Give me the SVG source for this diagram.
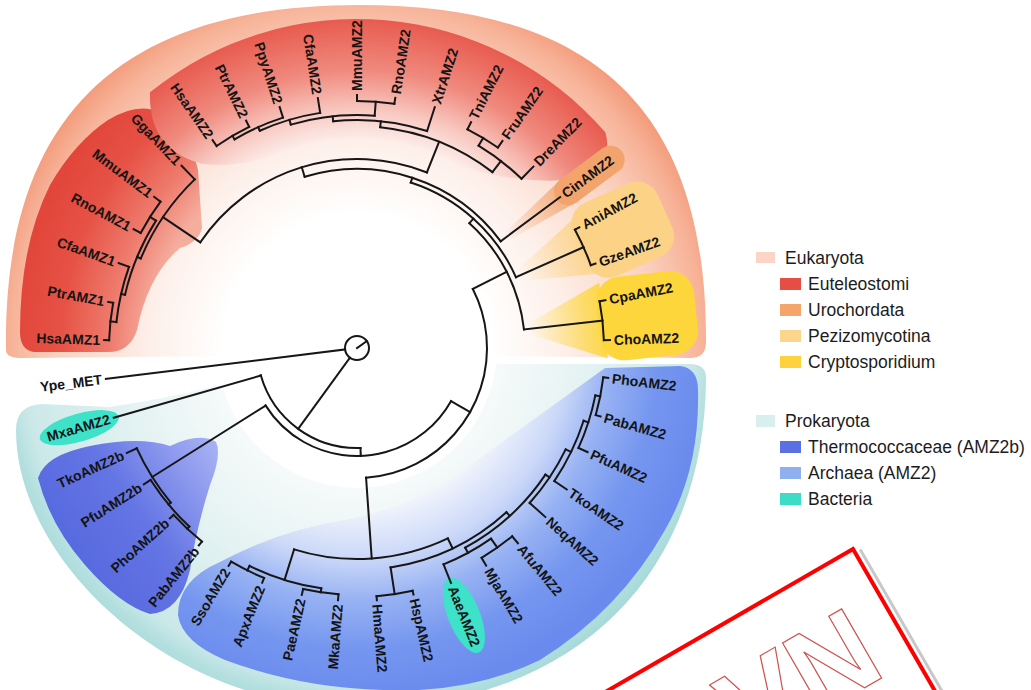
<svg xmlns="http://www.w3.org/2000/svg" width="1031" height="690" viewBox="0 0 1031 690">
<defs>
<style>
.t line,.t circle{fill:none;stroke:#161616;stroke-width:2;stroke-linecap:square}
.lb{font-family:'Liberation Sans',Arial,sans-serif;font-weight:bold;font-size:14px;fill:#141414;dominant-baseline:central}
.l{text-anchor:end}
.lg{font-family:'Liberation Sans',Arial,sans-serif;font-size:17.5px;fill:#1c1c1c}
</style>
<radialGradient id="gEuk" gradientUnits="userSpaceOnUse" cx="357" cy="348" r="372">
<stop offset="0.36" stop-color="#ffffff"/><stop offset="0.55" stop-color="#fdf0ea"/><stop offset="0.8" stop-color="#fad2c1"/><stop offset="0.93" stop-color="#f7b398"/><stop offset="1" stop-color="#f39a7a"/>
</radialGradient>
<radialGradient id="gProk" gradientUnits="userSpaceOnUse" cx="357" cy="348" r="372">
<stop offset="0.37" stop-color="#f6fafa"/><stop offset="0.6" stop-color="#e6f3f3"/><stop offset="0.9" stop-color="#cbe8e8"/><stop offset="0.95" stop-color="#b4dfdf"/><stop offset="1" stop-color="#a6d9d9"/>
</radialGradient>
<radialGradient id="gAMZ1" gradientUnits="userSpaceOnUse" cx="357" cy="348" r="345">
<stop offset="0.6" stop-color="#f5ad9e"/><stop offset="0.72" stop-color="#ee7a6c"/><stop offset="0.86" stop-color="#e65245"/><stop offset="1" stop-color="#e2453a"/>
</radialGradient>
<radialGradient id="gAMZ2" gradientUnits="userSpaceOnUse" cx="357" cy="348" r="330">
<stop offset="0.62" stop-color="#fdf2f0"/><stop offset="0.72" stop-color="#f8c9c1"/><stop offset="0.84" stop-color="#f08a7e"/><stop offset="1" stop-color="#e85a4e"/>
</radialGradient>
<radialGradient id="gArch" gradientUnits="userSpaceOnUse" cx="357" cy="348" r="350">
<stop offset="0.46" stop-color="#f1f4fc"/><stop offset="0.6" stop-color="#cbd8f8"/><stop offset="0.72" stop-color="#97b2f3"/><stop offset="0.86" stop-color="#7596ef"/><stop offset="1" stop-color="#6a8bed"/>
</radialGradient>
<linearGradient id="gThermo" x1="0" y1="0.8" x2="1" y2="0.1">
<stop offset="0" stop-color="#4f63dc"/><stop offset="0.55" stop-color="#6475e4"/><stop offset="1" stop-color="#a5aff4"/>
</linearGradient>
<linearGradient id="gCinT" gradientUnits="userSpaceOnUse" x1="185" y1="0" x2="262" y2="0">
<stop offset="0" stop-color="#f3a36c" stop-opacity="0"/><stop offset="1" stop-color="#f3a36c" stop-opacity="0.85"/>
</linearGradient>
<linearGradient id="gAGT" gradientUnits="userSpaceOnUse" x1="178" y1="0" x2="250" y2="0">
<stop offset="0" stop-color="#fcd690" stop-opacity="0"/><stop offset="1" stop-color="#fcd690" stop-opacity="1"/>
</linearGradient>
<linearGradient id="gCCT" gradientUnits="userSpaceOnUse" x1="172" y1="0" x2="248" y2="0">
<stop offset="0" stop-color="#fdd848" stop-opacity="0"/><stop offset="1" stop-color="#fdd848" stop-opacity="1"/>
</linearGradient>
</defs>
<rect width="1031" height="690" fill="#ffffff"/>

<g id="regions">
<path id="bg-eukaryota" fill="url(#gEuk)" d="M 6,350 C 3,118 118,5 360,5 C 602,5 707,118 706,342 Q 706,358 690,358 L 491.8,356 A 135 135 0 1 0 222.2,356 L 22,358 Q 6,358 6,350 Z"/>
<path id="bg-prokaryota" fill="url(#gProk)" d="M 706,378 C 705,575 575,708 357,708 C 170,708 16,560 16,430 Q 16,405 42,404 L 110,407 Q 170,398 221.8,384.2 A 140 140 0 0 0 496.1,364 L 690,364 Q 706,364 706,378 Z"/>
<path id="bg-amz1" fill="url(#gAMZ1)" d="M 108,120 Q 137,102 160,112 Q 188,127 198,170 L 202,228 Q 199,242 180,248 Q 148,275 137,330 Q 130,352 108,352 L 34,352 Q 20,350 20,332 Q 20,245 50,185 Q 75,142 108,120 Z"/>
<path id="bg-amz2" fill="url(#gAMZ2)" d="M 150,92.3 A 329 329 0 0 1 605.3,132.2 Q 614,160 585,172 Q 566,181 549.5,180.7 Q 500,180 462,166.1 A 210 210 0 0 0 285.2,150.7 Q 245,168 202.7,164.1 Q 148,150 150,92.3 Z"/>
<path id="bg-thermo" fill="url(#gThermo)" d="M 38,478 Q 45,455 90,446 Q 140,436 170,446 Q 200,432 216,442 Q 222,455 210,485 Q 196,530 190,570 Q 180,612 150,614 Q 120,605 85,565 Q 50,525 38,478 Z"/>
<path id="bg-archaea" fill="url(#gArch)" d="M 605,368 L 680,366 Q 698,368 698,390 Q 700,470 665,530 Q 620,610 540,660 Q 470,694 383,690 Q 300,688 225,660 Q 182,642 178,615 Q 178,580 220,562 Q 280,530 345,520 Q 420,505 470,465 Q 540,415 605,368 Z"/>
<g transform="translate(357 348)">
<polygon points="185,-4 265,-14 265,14 185,4" fill="url(#gCinT)" transform="rotate(-36.6)"/>
<line x1="263" y1="0" x2="316" y2="0" stroke="#f3a36c" stroke-width="28" stroke-linecap="round" transform="rotate(-36.6)"/>
<polygon points="178,-6 250,-30 250,30 178,6" fill="url(#gAGT)" transform="rotate(-24)"/>
<rect x="245" y="-40" width="92" height="80" rx="22" fill="#fcd386" transform="rotate(-24)"/>
<polygon points="172,-5 248,-38 248,38 172,5" fill="url(#gCCT)" transform="rotate(-6.35)"/>
<rect x="243" y="-42" width="98" height="84" rx="24" fill="#fdd63c" transform="rotate(-6.35)"/>
<ellipse cx="289" cy="0" rx="41" ry="14" fill="#3de2c8" transform="rotate(164)"/>
<ellipse cx="288" cy="0" rx="40" ry="16" fill="#3de2c8" transform="rotate(68.2)"/>
</g>
</g>

<g id="connectors" class="t" transform="translate(357 348)">
<circle r="12"/>
<line x1="0" x2="12" transform="rotate(-35)"/>
<line x1="12" x2="253" transform="rotate(173)"/>
<line x1="12" x2="100" transform="rotate(126)"/>
<circle r="100" stroke-dasharray="132.6 3000" transform="rotate(88)"/>
<line x1="100" x2="253" transform="rotate(164)"/>
<line x1="100" x2="108" transform="rotate(88)"/>
<circle r="108" stroke-dasharray="223 3000" transform="rotate(29.5)"/>
<line x1="108" x2="242" transform="rotate(147.8)"/>
<line x1="108" x2="130" transform="rotate(29.5)"/>
<circle r="130" stroke-dasharray="256.4 3000" transform="rotate(-27)"/>
<line x1="130" x2="211" transform="rotate(86)"/>
<line x1="130" x2="168" transform="rotate(-27)"/>
<circle r="168" stroke-dasharray="122.1 3000" transform="rotate(-48)"/>
<line x1="168" x2="247" transform="rotate(-6.35)"/>
<circle r="247" stroke-dasharray="39.2 3000" transform="rotate(-10.9)"/>
<line x1="247" x2="253" transform="rotate(-10.9)"/>
<line x1="247" x2="253" transform="rotate(-1.8)"/>
<line x1="168" x2="174" transform="rotate(-48)"/>
<circle r="174" stroke-dasharray="145.8 3000" transform="rotate(-72)"/>
<line x1="174" x2="248" transform="rotate(-24)"/>
<circle r="248" stroke-dasharray="39 3000" transform="rotate(-28.5)"/>
<line x1="248" x2="253" transform="rotate(-28.5)"/>
<line x1="248" x2="253" transform="rotate(-19.5)"/>
<line x1="174" x2="179" transform="rotate(-72)"/>
<circle r="179" stroke-dasharray="219.9 3000" transform="rotate(-107)"/>
<line x1="179" x2="253" transform="rotate(-36.6)"/>
<line x1="179" x2="189" transform="rotate(-107)"/>
<circle r="189" stroke-dasharray="256.3 3000" transform="rotate(-146)"/>
<line x1="189" x2="234" transform="rotate(-146)"/>
<line x1="189" x2="222" transform="rotate(-68.3)"/>
<circle r="234" stroke-dasharray="96.4 3000" transform="rotate(-157.5)"/>
<line x1="234" x2="253" transform="rotate(-133.9)"/>
<line x1="234" x2="238" transform="rotate(-157.5)"/>
<circle r="238" stroke-dasharray="80.8 3000" transform="rotate(-167.1)"/>
<line x1="238" x2="245" transform="rotate(-147.65)"/>
<circle r="245" stroke-dasharray="37.2 3000" transform="rotate(-152)"/>
<line x1="245" x2="253" transform="rotate(-143.3)"/>
<line x1="245" x2="253" transform="rotate(-152)"/>
<line x1="238" x2="242" transform="rotate(-167.1)"/>
<circle r="242" stroke-dasharray="56.8 3000" transform="rotate(-173.85)"/>
<line x1="242" x2="253" transform="rotate(-160.4)"/>
<line x1="242" x2="248" transform="rotate(-173.85)"/>
<circle r="248" stroke-dasharray="37.7 3000" transform="rotate(-178.2)"/>
<line x1="248" x2="253" transform="rotate(-169.5)"/>
<line x1="248" x2="253" transform="rotate(-178.2)"/>
<circle r="222" stroke-dasharray="122.4 3000" transform="rotate(-84)"/>
<line x1="222" x2="228" transform="rotate(-84)"/>
<line x1="222" x2="236" transform="rotate(-52.4)"/>
<circle r="228" stroke-dasharray="95.1 3000" transform="rotate(-96)"/>
<line x1="228" x2="253" transform="rotate(-72.1)"/>
<line x1="228" x2="233" transform="rotate(-96)"/>
<circle r="233" stroke-dasharray="84.8 3000" transform="rotate(-106.5)"/>
<line x1="233" x2="247" transform="rotate(-85.65)"/>
<circle r="247" stroke-dasharray="37.5 3000" transform="rotate(-90)"/>
<line x1="247" x2="253" transform="rotate(-90)"/>
<line x1="247" x2="253" transform="rotate(-81.3)"/>
<line x1="233" x2="238" transform="rotate(-106.5)"/>
<circle r="238" stroke-dasharray="63.1 3000" transform="rotate(-114.1)"/>
<line x1="238" x2="253" transform="rotate(-98.9)"/>
<line x1="238" x2="242" transform="rotate(-114.1)"/>
<circle r="242" stroke-dasharray="53.2 3000" transform="rotate(-120.4)"/>
<line x1="242" x2="253" transform="rotate(-107.8)"/>
<line x1="242" x2="246" transform="rotate(-120.4)"/>
<circle r="246" stroke-dasharray="37.8 3000" transform="rotate(-124.8)"/>
<line x1="246" x2="253" transform="rotate(-116)"/>
<line x1="246" x2="253" transform="rotate(-124.8)"/>
<circle r="236" stroke-dasharray="54.4 3000" transform="rotate(-59)"/>
<line x1="236" x2="253" transform="rotate(-45.8)"/>
<line x1="236" x2="245" transform="rotate(-59)"/>
<circle r="245" stroke-dasharray="35.5 3000" transform="rotate(-63.2)"/>
<line x1="245" x2="253" transform="rotate(-63.2)"/>
<line x1="245" x2="253" transform="rotate(-54.9)"/>
<circle r="242" stroke-dasharray="64.2 3000" transform="rotate(140.3)"/>
<line x1="242" x2="253" transform="rotate(155.5)"/>
<line x1="242" x2="245" transform="rotate(140.3)"/>
<circle r="245" stroke-dasharray="60.7 3000" transform="rotate(133.2)"/>
<line x1="245" x2="253" transform="rotate(147.4)"/>
<line x1="245" x2="248" transform="rotate(133.2)"/>
<circle r="248" stroke-dasharray="39 3000" transform="rotate(128.7)"/>
<line x1="248" x2="253" transform="rotate(137.7)"/>
<line x1="248" x2="253" transform="rotate(128.7)"/>
<circle r="211" stroke-dasharray="157.8 3000" transform="rotate(64.5)"/>
<line x1="211" x2="243" transform="rotate(107.35)"/>
<line x1="211" x2="222" transform="rotate(64.5)"/>
<circle r="243" stroke-dasharray="75.5 3000" transform="rotate(98.45)"/>
<line x1="243" x2="248" transform="rotate(116.25)"/>
<line x1="243" x2="247" transform="rotate(98.45)"/>
<circle r="248" stroke-dasharray="36.8 3000" transform="rotate(112)"/>
<line x1="248" x2="253" transform="rotate(120.5)"/>
<line x1="248" x2="253" transform="rotate(112)"/>
<circle r="247" stroke-dasharray="35.8 3000" transform="rotate(94.3)"/>
<line x1="247" x2="253" transform="rotate(102.6)"/>
<line x1="247" x2="253" transform="rotate(94.3)"/>
<circle r="222" stroke-dasharray="130.2 3000" transform="rotate(47.7)"/>
<line x1="222" x2="249" transform="rotate(81.3)"/>
<circle r="249" stroke-dasharray="36.5 3000" transform="rotate(77.1)"/>
<line x1="249" x2="253" transform="rotate(85.5)"/>
<line x1="249" x2="253" transform="rotate(77.1)"/>
<line x1="222" x2="227" transform="rotate(47.7)"/>
<circle r="227" stroke-dasharray="109.5 3000" transform="rotate(33.9)"/>
<line x1="227" x2="233" transform="rotate(61.55)"/>
<line x1="227" x2="232" transform="rotate(33.9)"/>
<circle r="233" stroke-dasharray="54.1 3000" transform="rotate(54.9)"/>
<line x1="233" x2="253" transform="rotate(68.2)"/>
<line x1="233" x2="244" transform="rotate(54.9)"/>
<circle r="244" stroke-dasharray="37.5 3000" transform="rotate(50.5)"/>
<line x1="244" x2="253" transform="rotate(59.3)"/>
<line x1="244" x2="253" transform="rotate(50.5)"/>
<circle r="232" stroke-dasharray="64.8 3000" transform="rotate(25.9)"/>
<line x1="232" x2="253" transform="rotate(41.9)"/>
<line x1="232" x2="238" transform="rotate(25.9)"/>
<circle r="238" stroke-dasharray="67.3 3000" transform="rotate(17.8)"/>
<line x1="238" x2="253" transform="rotate(34)"/>
<line x1="238" x2="243" transform="rotate(17.8)"/>
<circle r="243" stroke-dasharray="55.3 3000" transform="rotate(11.25)"/>
<line x1="243" x2="253" transform="rotate(24.3)"/>
<line x1="243" x2="248" transform="rotate(11.25)"/>
<circle r="248" stroke-dasharray="38.5 3000" transform="rotate(6.8)"/>
<line x1="248" x2="253" transform="rotate(15.7)"/>
<line x1="248" x2="253" transform="rotate(6.8)"/>
</g>

<g id="nodes" transform="translate(357 348)">
<g id="n-Ype_MET"><text class="lb l" transform="rotate(173) translate(257 0) rotate(180)">Ype_MET</text></g>
<g id="n-MxaAMZ2"><text class="lb l" transform="rotate(164) translate(257 0) rotate(180)">MxaAMZ2</text></g>
<g id="n-TkoAMZ2b"><text class="lb l" transform="rotate(155.5) translate(257 0) rotate(180)">TkoAMZ2b</text></g>
<g id="n-PfuAMZ2b"><text class="lb l" transform="rotate(147.4) translate(257 0) rotate(180)">PfuAMZ2b</text></g>
<g id="n-PhoAMZ2b"><text class="lb l" transform="rotate(137.7) translate(257 0) rotate(180)">PhoAMZ2b</text></g>
<g id="n-PabAMZ2b"><text class="lb l" transform="rotate(128.7) translate(257 0) rotate(180)">PabAMZ2b</text></g>
<g id="n-SsoAMZ2"><text class="lb l" transform="rotate(120.5) translate(257 0) rotate(180)">SsoAMZ2</text></g>
<g id="n-ApxAMZ2"><text class="lb l" transform="rotate(112) translate(257 0) rotate(180)">ApxAMZ2</text></g>
<g id="n-PaeAMZ2"><text class="lb l" transform="rotate(102.6) translate(257 0) rotate(180)">PaeAMZ2</text></g>
<g id="n-MkaAMZ2"><text class="lb l" transform="rotate(94.3) translate(257 0) rotate(180)">MkaAMZ2</text></g>
<g id="n-HmaAMZ2"><text class="lb" transform="rotate(85.5) translate(257 0)">HmaAMZ2</text></g>
<g id="n-HspAMZ2"><text class="lb" transform="rotate(77.1) translate(257 0)">HspAMZ2</text></g>
<g id="n-AaeAMZ2"><text class="lb" transform="rotate(68.2) translate(257 0)">AaeAMZ2</text></g>
<g id="n-MjaAMZ2"><text class="lb" transform="rotate(59.3) translate(257 0)">MjaAMZ2</text></g>
<g id="n-AfuAMZ2"><text class="lb" transform="rotate(50.5) translate(257 0)">AfuAMZ2</text></g>
<g id="n-NeqAMZ2"><text class="lb" transform="rotate(41.9) translate(257 0)">NeqAMZ2</text></g>
<g id="n-TkoAMZ2"><text class="lb" transform="rotate(34) translate(257 0)">TkoAMZ2</text></g>
<g id="n-PfuAMZ2"><text class="lb" transform="rotate(24.3) translate(257 0)">PfuAMZ2</text></g>
<g id="n-PabAMZ2"><text class="lb" transform="rotate(15.7) translate(257 0)">PabAMZ2</text></g>
<g id="n-PhoAMZ2"><text class="lb" transform="rotate(6.8) translate(257 0)">PhoAMZ2</text></g>
<g id="n-ChoAMZ2"><text class="lb" transform="rotate(-1.8) translate(257 0)">ChoAMZ2</text></g>
<g id="n-CpaAMZ2"><text class="lb" transform="rotate(-10.9) translate(257 0)">CpaAMZ2</text></g>
<g id="n-GzeAMZ2"><text class="lb" transform="rotate(-19.5) translate(257 0)">GzeAMZ2</text></g>
<g id="n-AniAMZ2"><text class="lb" transform="rotate(-28.5) translate(257 0)">AniAMZ2</text></g>
<g id="n-CinAMZ2"><text class="lb" transform="rotate(-36.6) translate(257 0)">CinAMZ2</text></g>
<g id="n-DreAMZ2"><text class="lb" transform="rotate(-45.8) translate(257 0)">DreAMZ2</text></g>
<g id="n-FruAMZ2"><text class="lb" transform="rotate(-54.9) translate(257 0)">FruAMZ2</text></g>
<g id="n-TniAMZ2"><text class="lb" transform="rotate(-63.2) translate(257 0)">TniAMZ2</text></g>
<g id="n-XtrAMZ2"><text class="lb" transform="rotate(-72.1) translate(257 0)">XtrAMZ2</text></g>
<g id="n-RnoAMZ2"><text class="lb" transform="rotate(-81.3) translate(257 0)">RnoAMZ2</text></g>
<g id="n-MmuAMZ2"><text class="lb" transform="rotate(-90) translate(257 0)">MmuAMZ2</text></g>
<g id="n-CfaAMZ2"><text class="lb l" transform="rotate(-98.9) translate(257 0) rotate(180)">CfaAMZ2</text></g>
<g id="n-PpyAMZ2"><text class="lb l" transform="rotate(-107.8) translate(257 0) rotate(180)">PpyAMZ2</text></g>
<g id="n-PtrAMZ2"><text class="lb l" transform="rotate(-116) translate(257 0) rotate(180)">PtrAMZ2</text></g>
<g id="n-HsaAMZ2"><text class="lb l" transform="rotate(-124.8) translate(257 0) rotate(180)">HsaAMZ2</text></g>
<g id="n-GgaAMZ1"><text class="lb l" transform="rotate(-133.9) translate(257 0) rotate(180)">GgaAMZ1</text></g>
<g id="n-MmuAMZ1"><text class="lb l" transform="rotate(-143.3) translate(257 0) rotate(180)">MmuAMZ1</text></g>
<g id="n-RnoAMZ1"><text class="lb l" transform="rotate(-152) translate(257 0) rotate(180)">RnoAMZ1</text></g>
<g id="n-CfaAMZ1"><text class="lb l" transform="rotate(-160.4) translate(257 0) rotate(180)">CfaAMZ1</text></g>
<g id="n-PtrAMZ1"><text class="lb l" transform="rotate(-169.5) translate(257 0) rotate(180)">PtrAMZ1</text></g>
<g id="n-HsaAMZ1"><text class="lb l" transform="rotate(-178.2) translate(257 0) rotate(180)">HsaAMZ1</text></g>
</g>

<g id="legend">
<g id="lg-eukaryota"><rect x="756" y="252" width="19" height="11" fill="#fbd5c5"/><text class="lg" x="785" y="264">Eukaryota</text></g>
<g id="lg-euteleostomi"><rect x="780" y="278" width="21" height="12" fill="#e64e45"/><text class="lg" x="808" y="290">Euteleostomi</text></g>
<g id="lg-urochordata"><rect x="780" y="304" width="21" height="12" fill="#f5a46a"/><text class="lg" x="808" y="316">Urochordata</text></g>
<g id="lg-pezizomycotina"><rect x="780" y="330" width="21" height="12" fill="#fcd68c"/><text class="lg" x="808" y="342">Pezizomycotina</text></g>
<g id="lg-cryptosporidium"><rect x="780" y="356" width="21" height="12" fill="#fdd23c"/><text class="lg" x="808" y="368">Cryptosporidium</text></g>
<g id="lg-prokaryota"><rect x="756" y="415" width="19" height="12" fill="#d9efef"/><text class="lg" x="785" y="427">Prokaryota</text></g>
<g id="lg-thermococcaceae"><rect x="780" y="441" width="21" height="12" fill="#5b70e2"/><text class="lg" x="808" y="453">Thermococcaceae (AMZ2b)</text></g>
<g id="lg-archaea"><rect x="780" y="467" width="21" height="12" fill="#8fb0f0"/><text class="lg" x="808" y="479">Archaea (AMZ2)</text></g>
<g id="lg-bacteria"><rect x="780" y="493" width="21" height="12" fill="#3cdcc6"/><text class="lg" x="808" y="505">Bacteria</text></g>
</g>

<g id="watermark" transform="translate(853 549) rotate(-30)">
<line x1="6" y1="4" x2="6" y2="320" stroke="#c8c8c8" stroke-width="3"/>
<rect x="-420" y="0" width="420" height="320" fill="#ffffff" stroke="#ff0000" stroke-width="4"/>
<text x="-193" y="126" font-family="'Liberation Sans',Arial,sans-serif" font-weight="bold" font-size="116" fill="none" stroke="#d05050" stroke-width="1.2">VN</text>
</g>
</svg>
